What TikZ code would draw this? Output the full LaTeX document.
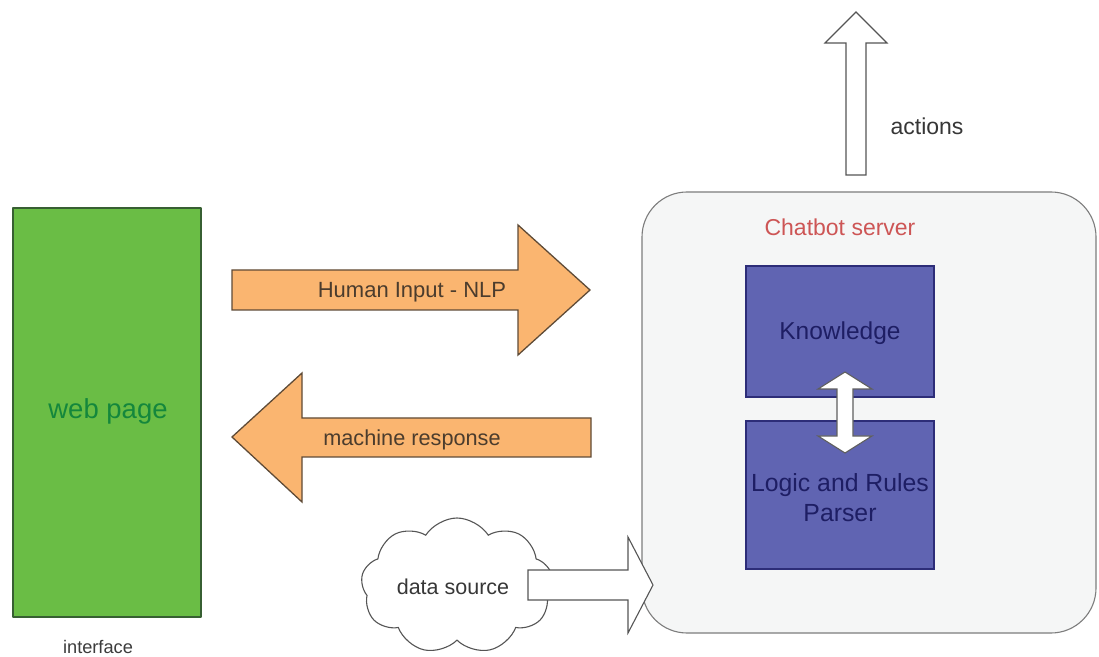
\documentclass[tikz,border=0pt]{standalone}
\usepackage{fontspec}
\setmainfont{Liberation Sans}
\usetikzlibrary{shapes.symbols}

\begin{document}
\begin{tikzpicture}[x=1pt,y=1pt]
\definecolor{fillColor}{RGB}{255,255,255}
\path[use as bounding box,fill=fillColor] (0,0) rectangle (1099,656);
\begin{scope}
\path[clip] (0,0) rectangle (1099,656);
% interface
\definecolor{drawColor}{RGB}{55,95,50}
\definecolor{fillColor}{RGB}{106,189,69}

\path[draw=drawColor,line width= 1.3pt,line join=round,fill=fillColor] ( 13, 39) rectangle (201,448);
\definecolor{drawColor}{RGB}{20,135,60}

\node[text=drawColor,anchor=center,inner sep=0pt, outer sep=0pt, scale= 2.75] (webPage) at (108,245) {web page};
\definecolor{drawColor}{RGB}{60,60,60}

\node[text=drawColor,anchor=center,inner sep=0pt, outer sep=0pt, scale= 1.82] (interfaceLbl) at ( 98,  9) {interface};
\end{scope}
\begin{scope}
\path[clip] (0,0) rectangle (1099,656);
% orange arrows
\definecolor{drawColor}{RGB}{95,75,55}
\definecolor{fillColor}{RGB}{250,181,112}

\path[draw=drawColor,line width= 1.3pt,line join=miter,fill=fillColor] (232,386) -- (518,386) --
	(518,431) -- (590,366) -- (518,301) -- (518,346) -- (232,346) -- cycle;

\path[draw=drawColor,line width= 1.3pt,line join=miter,fill=fillColor] (591,238) -- (302,238) --
	(302,283) -- (232,219) -- (302,154) -- (302,199) -- (591,199) -- cycle;
\definecolor{drawColor}{RGB}{75,60,45}

\node[text=drawColor,anchor=center,inner sep=0pt, outer sep=0pt, scale= 2.20] (humanInput) at (412,364) {Human Input - NLP};

\node[text=drawColor,anchor=center,inner sep=0pt, outer sep=0pt, scale= 2.17] (machineResp) at (412,216) {machine response};
\end{scope}
\begin{scope}
\path[clip] (0,0) rectangle (1099,656);
% chatbot server
\definecolor{drawColor}{RGB}{125,125,125}
\definecolor{fillColor}{RGB}{245,246,246}

\path[draw=drawColor,line width= 1.1pt,rounded corners=45pt,fill=fillColor] (642, 23) rectangle (1096,464);
\definecolor{drawColor}{RGB}{205,85,85}

\node[text=drawColor,anchor=center,inner sep=0pt, outer sep=0pt, scale= 2.30] (serverLbl) at (840,429) {Chatbot server};
\definecolor{drawColor}{RGB}{45,45,120}
\definecolor{fillColor}{RGB}{96,100,178}

\path[draw=drawColor,line width= 1.3pt,fill=fillColor] (746,259) rectangle (934,390);

\path[draw=drawColor,line width= 1.3pt,fill=fillColor] (746, 87) rectangle (934,235);
\definecolor{drawColor}{RGB}{30,30,100}

\node[text=drawColor,anchor=center,inner sep=0pt, outer sep=0pt, scale= 2.45] (knowledge) at (840,323) {Knowledge};

\node[text=drawColor,anchor=center,align=center,inner sep=0pt, outer sep=0pt, scale= 2.48] (logicRules) at (840,158) {Logic and Rules\\Parser};
\definecolor{drawColor}{RGB}{95,95,95}
\definecolor{fillColor}{RGB}{255,255,255}

\path[draw=drawColor,line width= 1.1pt,line join=miter,fill=fillColor] (845,284) -- (872,267) --
	(853,267) -- (853,220) -- (872,220) -- (845,203) -- (818,220) -- (837,220) --
	(837,267) -- (818,267) -- cycle;
\end{scope}
\begin{scope}
\path[clip] (0,0) rectangle (1099,656);
% actions
\definecolor{drawColor}{RGB}{85,85,85}
\definecolor{fillColor}{RGB}{255,255,255}

\path[draw=drawColor,line width= 1.1pt,line join=miter,fill=fillColor] (846,481) -- (846,613) --
	(825,613) -- (856,644) -- (887,613) -- (866,613) -- (866,481) -- cycle;
\definecolor{drawColor}{RGB}{55,55,55}

\node[text=drawColor,anchor=center,inner sep=0pt, outer sep=0pt, scale= 2.30] (actionsLbl) at (927,530) {actions};
\end{scope}
\begin{scope}
\path[clip] (0,0) rectangle (1099,656);
% data source
\definecolor{drawColor}{RGB}{85,85,85}
\definecolor{fillColor}{RGB}{255,255,255}

\node[cloud,cloud puffs=9,cloud puff arc=115,cloud ignores aspect,draw=drawColor,fill=fillColor,line width= 1.1pt,
	minimum width=192pt,minimum height=136pt,inner sep=0pt] (dataCloud) at (457, 70) {};

\path[draw=drawColor,line width= 1.1pt,line join=miter,fill=fillColor] (528, 86) -- (628, 86) --
	(628,119) -- (653, 71) -- (628, 23) -- (628, 56) -- (528, 56) -- cycle;
\definecolor{drawColor}{RGB}{55,55,55}

\node[text=drawColor,anchor=center,inner sep=0pt, outer sep=0pt, scale= 2.15] (dataSource) at (453, 69) {data source};
\end{scope}
\end{tikzpicture}
\end{document}
